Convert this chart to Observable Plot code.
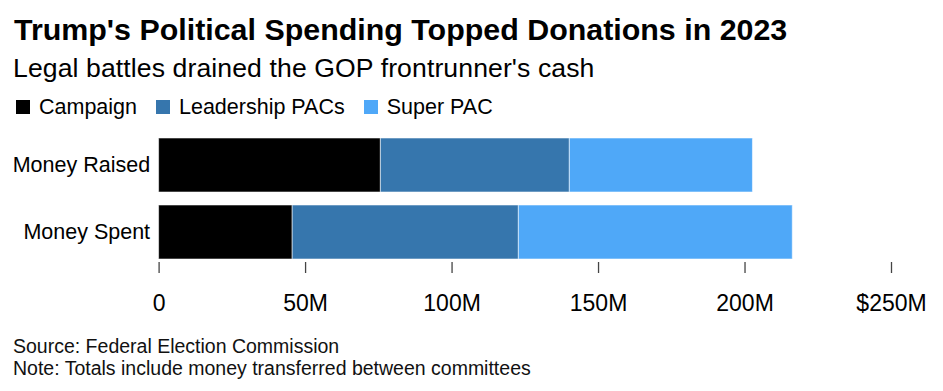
<!DOCTYPE html>
<html>
<head>
<meta charset="utf-8">
<script src="https://cdn.jsdelivr.net/npm/d3@7"></script>
<script src="https://cdn.jsdelivr.net/npm/@observablehq/plot@0.6"></script>
<style>
  body { margin: 0; background: #fff; font-family: "Liberation Sans", Arial, sans-serif; color: #000; }
  #wrap { position: relative; width: 943px; height: 391px; }
  .title, .subtitle, .legend, .note { position: absolute; line-height: normal; white-space: nowrap; }
  .title { left: 14px; top: 12px; font-size: 30.4px; font-weight: bold; }
  .subtitle { left: 13px; top: 53px; font-size: 26.6px; letter-spacing: 0.1px; }
  .legend { left: 16px; top: 95px; font-size: 21.5px; display: flex; gap: 19px; }
  .legend .item { display: flex; align-items: baseline; }
  .legend span.sw { display: inline-block; width: 14px; height: 14px; margin-right: 9px; }
  #chart { position: absolute; left: 0; top: 125px; }
  .note { left: 13px; font-size: 19.5px; color: #111; }
</style>
</head>
<body>
<div id="wrap">
  <div class="title">Trump's Political Spending Topped Donations in 2023</div>
  <div class="subtitle">Legal battles drained the GOP frontrunner's cash</div>
  <div class="legend" id="legend"></div>
  <div id="chart"></div>
  <div class="note" style="top:335px">Source: Federal Election Commission</div>
  <div class="note" style="top:356.5px">Note: Totals include money transferred between committees</div>
</div>
<script>
const categories = ["Money Raised", "Money Spent"];
const series = ["Campaign", "Leadership PACs", "Super PAC"];
const campaign = [75.7, 45.6];
const leadershipPACs = [64.5, 77.2];
const superPAC = [62.5, 93.5];
const colors = ["#000000", "#3676ad", "#4fa8f8"];
const xTicks = [0, 50, 100, 150, 200, 250];
const xTickLabels = ["0", "50M", "100M", "150M", "200M", "$250M"];

const values = [campaign, leadershipPACs, superPAC];
const data = [];
series.forEach((s, si) => categories.forEach((c, ci) => data.push({category: c, series: s, value: values[si][ci]})));

const legend = document.getElementById("legend");
series.forEach((s, i) => {
  const d = document.createElement("div");
  d.className = "item";
  d.innerHTML = `<span class="sw" style="background:${colors[i]}"></span><span>${s}</span>`;
  legend.appendChild(d);
});

const chart = Plot.plot({
  width: 943,
  height: 205,
  marginLeft: 158.6,
  marginRight: 52,
  marginTop: 12,
  marginBottom: 68,
  style: {fontFamily: "Liberation Sans, Arial, sans-serif", fontSize: "21.5px", color: "#000", background: "#fff", overflow: "visible"},
  x: {domain: [0, 250], ticks: xTicks},
  y: {domain: categories, range: [12, 135], paddingInner: 0.191, paddingOuter: 0},
  color: {domain: series, range: colors},
  marks: [
    Plot.barX(data, Plot.stackX({x: "value", y: "category", fill: "series", stroke: "#ffffff", strokeOpacity: 0.55, strokeWidth: 1, order: series})),
    Plot.axisY({tickSize: 0, tickPadding: 9, label: null, fontSize: 21.5}),
    Plot.axisX({ticks: xTicks, tickFormat: (d) => xTickLabels[xTicks.indexOf(d)], tickSize: 11, tickPadding: 21, stroke: "#444", strokeWidth: 1.3, label: null, fontSize: 23})
  ]
});
document.getElementById("chart").appendChild(chart);
</script>
</body>
</html>
